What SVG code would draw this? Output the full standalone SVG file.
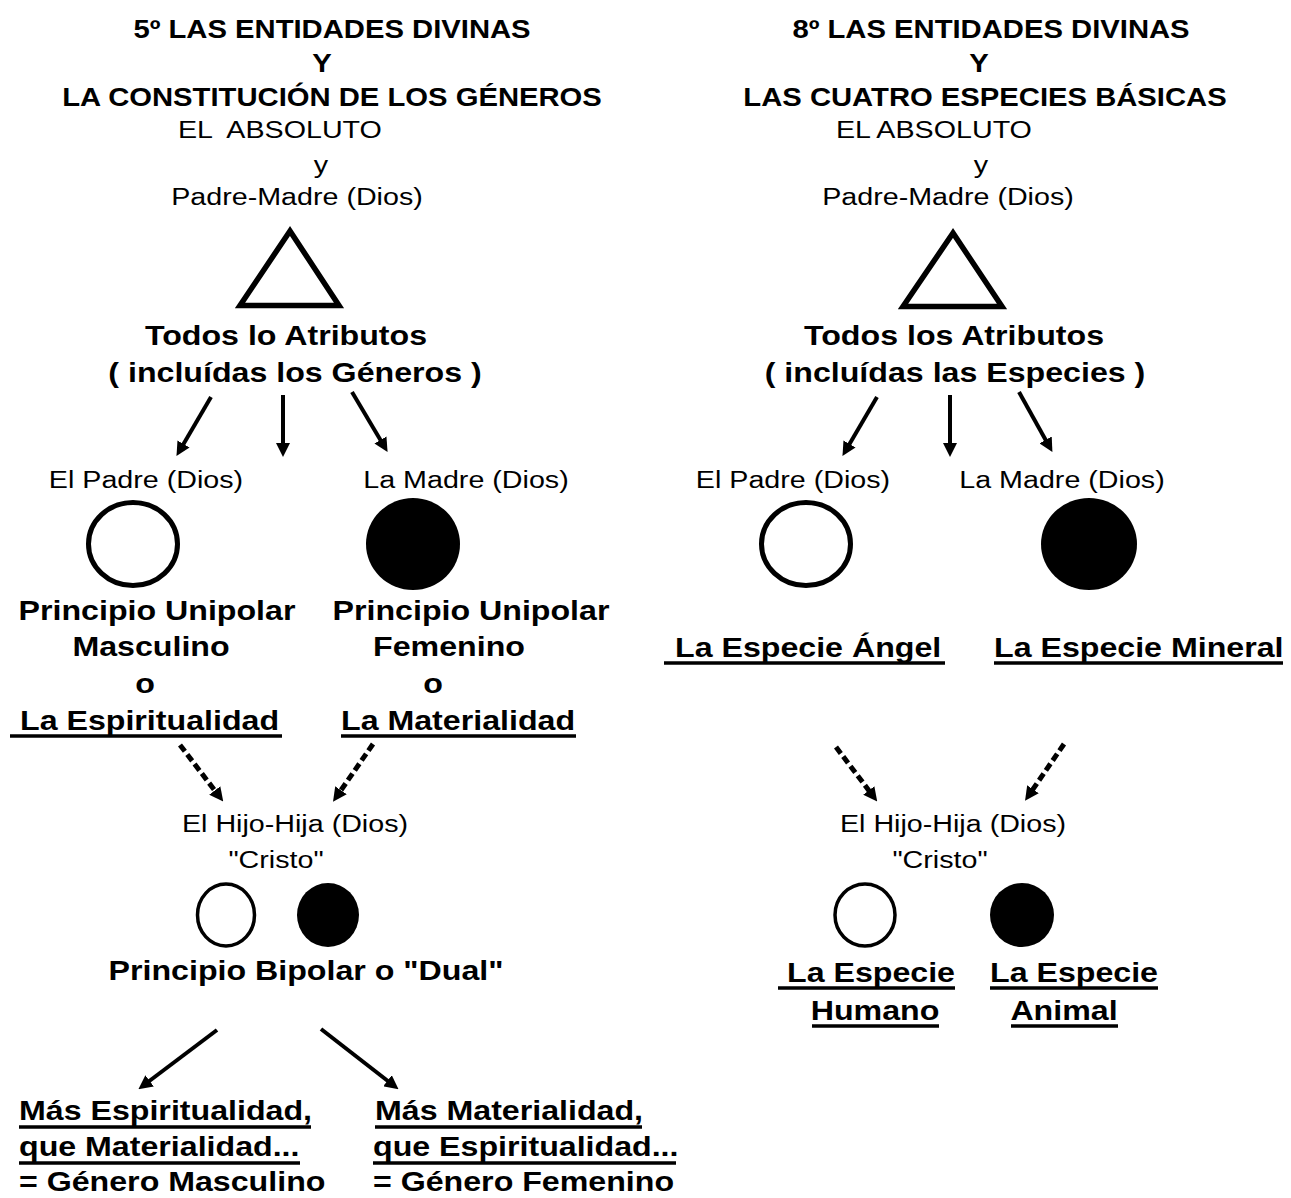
<svg xmlns="http://www.w3.org/2000/svg" width="1291" height="1198" viewBox="0 0 1291 1198">
<style>
  text { font-family: "Liberation Sans", Arial, sans-serif; fill: #000; white-space: pre; }
  .ti { font-size: 25px; font-weight: bold; text-anchor: middle; }
  .rg { font-size: 24.5px; text-anchor: middle; }
  .rs { font-size: 24.5px; text-anchor: start; }
  .lb { font-size: 27.5px; font-weight: bold; text-anchor: middle; }
  .ls { font-size: 27.5px; font-weight: bold; text-anchor: start; }
  .ul { stroke: #000; stroke-width: 3.5; }
  .tri { fill: none; stroke: #000; stroke-width: 5.5; stroke-linejoin: miter; }
  .wc { fill: #fff; stroke: #000; stroke-width: 5; }
  .wcs { fill: #fff; stroke: #000; stroke-width: 3.5; }
  .bc { fill: #000; }
  .ar { fill: none; stroke: #000; stroke-width: 4; marker-end: url(#ah); }
  .da { fill: none; stroke: #000; stroke-width: 5; stroke-dasharray: 8 4; marker-end: url(#ah); }
</style>
<defs>
  <marker id="ah" viewBox="0 0 14 14" refX="7" refY="7" markerWidth="14" markerHeight="14" markerUnits="userSpaceOnUse" orient="auto">
    <path d="M0,0 L14,7 L0,14 z" fill="#000"/>
  </marker>
</defs>
<rect width="1291" height="1198" fill="#fff"/>

<!-- LEFT COLUMN -->
<g id="L-title">
  <text class="ti" transform="translate(332,38) scale(1.17,1)">5º LAS ENTIDADES DIVINAS</text>
  <text class="ti" transform="translate(322,72) scale(1.17,1)">Y</text>
  <text class="ti" transform="translate(332,106) scale(1.17,1)">LA CONSTITUCIÓN DE LOS GÉNEROS</text>
</g>
<g id="L-absoluto">
  <text class="rs" transform="translate(178,138) scale(1.17,1)">EL  ABSOLUTO</text>
  <text class="rg" transform="translate(321,173) scale(1.17,1)">y</text>
  <text class="rg" transform="translate(297,205) scale(1.17,1)">Padre-Madre (Dios)</text>
</g>
<g id="L-triangle">
  <polygon class="tri" points="290,231 240,305.5 339,305.5"/>
</g>
<g id="L-atributos">
  <text class="lb" transform="translate(286,345) scale(1.17,1)">Todos lo Atributos</text>
  <text class="lb" transform="translate(295,382) scale(1.17,1)">( incluídas los Géneros )</text>
</g>
<g id="L-padre">
  <text class="rg" transform="translate(146,488) scale(1.17,1)">El Padre (Dios)</text>
  <ellipse class="wc" cx="133" cy="544" rx="44.5" ry="41.5"/>
</g>
<g id="L-madre">
  <text class="rg" transform="translate(466,488) scale(1.17,1)">La Madre (Dios)</text>
  <ellipse class="bc" cx="413" cy="544" rx="47" ry="46"/>
</g>
<g id="L-masculino">
  <text class="lb" transform="translate(157,620) scale(1.17,1)">Principio Unipolar</text>
  <text class="lb" transform="translate(151,656) scale(1.17,1)">Masculino</text>
  <text class="lb" transform="translate(145,693) scale(1.17,1)">o</text>
  <text class="ls" transform="translate(20,730) scale(1.17,1)">La Espiritualidad</text>
  <line class="ul" x1="10" y1="736" x2="282" y2="736"/>
</g>
<g id="L-femenino">
  <text class="lb" transform="translate(471,620) scale(1.17,1)">Principio Unipolar</text>
  <text class="lb" transform="translate(449,656) scale(1.17,1)">Femenino</text>
  <text class="lb" transform="translate(433,693) scale(1.17,1)">o</text>
  <text class="ls" transform="translate(341,730) scale(1.17,1)">La Materialidad</text>
  <line class="ul" x1="341" y1="736" x2="576" y2="736"/>
</g>
<g id="L-hijo">
  <text class="rg" transform="translate(295,832) scale(1.17,1)">El Hijo-Hija (Dios)</text>
  <text class="rg" transform="translate(276,868) scale(1.17,1)">"Cristo"</text>
  <ellipse class="wcs" cx="226" cy="915" rx="28.5" ry="31"/>
  <ellipse class="bc" cx="328" cy="915" rx="31" ry="32"/>
  <text class="lb" transform="translate(306,980) scale(1.17,1)">Principio Bipolar o "Dual"</text>
</g>
<g id="L-genero-masculino">
  <text class="ls" transform="translate(19,1120) scale(1.17,1)">Más Espiritualidad,</text>
  <line class="ul" x1="19" y1="1127" x2="311" y2="1127"/>
  <text class="ls" transform="translate(19,1156) scale(1.17,1)">que Materialidad...</text>
  <line class="ul" x1="19" y1="1163" x2="300" y2="1163"/>
  <text class="ls" transform="translate(19,1191) scale(1.17,1)">= Género Masculino</text>
</g>
<g id="L-genero-femenino">
  <text class="ls" transform="translate(375,1120) scale(1.17,1)">Más Materialidad,</text>
  <line class="ul" x1="375" y1="1127" x2="642" y2="1127"/>
  <text class="ls" transform="translate(373,1156) scale(1.17,1)">que Espiritualidad...</text>
  <line class="ul" x1="373" y1="1163" x2="676" y2="1163"/>
  <text class="ls" transform="translate(373,1191) scale(1.17,1)">= Género Femenino</text>
</g>

<!-- RIGHT COLUMN -->
<g id="R-title">
  <text class="ti" transform="translate(991,38) scale(1.17,1)">8º LAS ENTIDADES DIVINAS</text>
  <text class="ti" transform="translate(979,72) scale(1.17,1)">Y</text>
  <text class="ti" transform="translate(985,106) scale(1.17,1)">LAS CUATRO ESPECIES BÁSICAS</text>
</g>
<g id="R-absoluto">
  <text class="rs" transform="translate(836,138) scale(1.17,1)">EL ABSOLUTO</text>
  <text class="rg" transform="translate(981,173) scale(1.17,1)">y</text>
  <text class="rg" transform="translate(948,205) scale(1.17,1)">Padre-Madre (Dios)</text>
</g>
<g id="R-triangle">
  <polygon class="tri" points="953,233 903,306.5 1002,306.5"/>
</g>
<g id="R-atributos">
  <text class="lb" transform="translate(954,345) scale(1.17,1)">Todos los Atributos</text>
  <text class="lb" transform="translate(955,382) scale(1.17,1)">( incluídas las Especies )</text>
</g>
<g id="R-padre">
  <text class="rg" transform="translate(793,488) scale(1.17,1)">El Padre (Dios)</text>
  <ellipse class="wc" cx="806" cy="544" rx="44.5" ry="41.5"/>
</g>
<g id="R-madre">
  <text class="rg" transform="translate(1062,488) scale(1.17,1)">La Madre (Dios)</text>
  <ellipse class="bc" cx="1089" cy="544" rx="48" ry="46"/>
</g>
<g id="R-angel">
  <text class="ls" transform="translate(675,657) scale(1.17,1)">La Especie Ángel</text>
  <line class="ul" x1="664" y1="663" x2="945" y2="663"/>
</g>
<g id="R-mineral">
  <text class="ls" transform="translate(994,657) scale(1.17,1)">La Especie Mineral</text>
  <line class="ul" x1="994" y1="663" x2="1283" y2="663"/>
</g>
<g id="R-hijo">
  <text class="rg" transform="translate(953,832) scale(1.17,1)">El Hijo-Hija (Dios)</text>
  <text class="rg" transform="translate(940,868) scale(1.17,1)">"Cristo"</text>
  <ellipse class="wcs" cx="865" cy="915" rx="30" ry="31"/>
  <ellipse class="bc" cx="1022" cy="915" rx="32" ry="32"/>
</g>
<g id="R-humano">
  <text class="ls" transform="translate(787,982) scale(1.17,1)">La Especie</text>
  <line class="ul" x1="778" y1="988" x2="955" y2="988"/>
  <text class="lb" transform="translate(875,1020) scale(1.17,1)">Humano</text>
  <line class="ul" x1="812" y1="1026" x2="939" y2="1026"/>
</g>
<g id="R-animal">
  <text class="ls" transform="translate(990,982) scale(1.17,1)">La Especie</text>
  <line class="ul" x1="990" y1="988" x2="1158" y2="988"/>
  <text class="lb" transform="translate(1064,1020) scale(1.17,1)">Animal</text>
  <line class="ul" x1="1011" y1="1026" x2="1118" y2="1026"/>
</g>

<!-- CONNECTORS -->
<g id="connectors">
  <line class="ar" x1="211" y1="397" x2="180" y2="450"/>
  <line class="ar" x1="283" y1="395" x2="283" y2="450"/>
  <line class="ar" x1="352" y1="392" x2="384" y2="446"/>
  <line class="da" x1="180" y1="745" x2="219" y2="796"/>
  <line class="da" x1="373" y1="744" x2="337" y2="796"/>
  <line class="ar" x1="217" y1="1030" x2="144" y2="1085"/>
  <line class="ar" x1="321" y1="1029" x2="393" y2="1085"/>
  <line class="ar" x1="877" y1="397" x2="846" y2="450"/>
  <line class="ar" x1="950" y1="395" x2="950" y2="450"/>
  <line class="ar" x1="1019" y1="392" x2="1049" y2="446"/>
  <line class="da" x1="836" y1="747" x2="873" y2="796"/>
  <line class="da" x1="1064" y1="744" x2="1029" y2="795"/>
</g>
</svg>
